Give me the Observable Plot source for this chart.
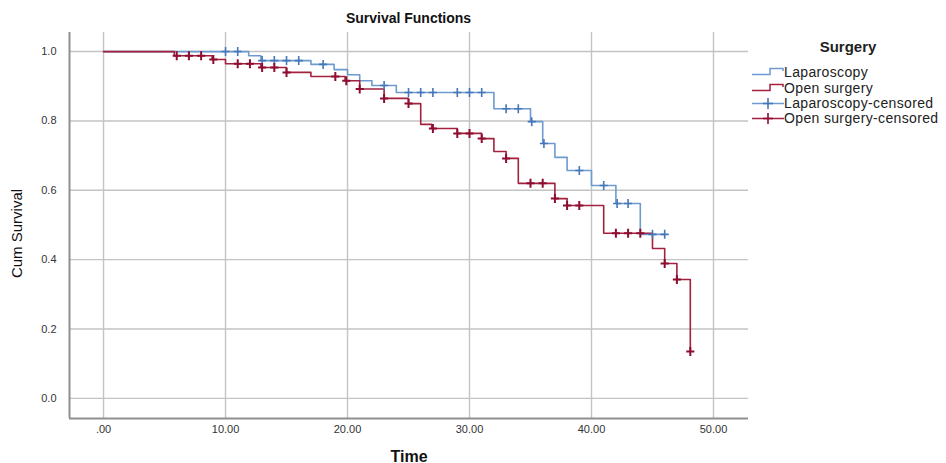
<!DOCTYPE html>
<html>
<head>
<meta charset="utf-8">
<script src="https://cdn.jsdelivr.net/npm/d3@7"></script>
<script src="https://cdn.jsdelivr.net/npm/@observablehq/plot@0.6"></script>
<style>
  body { margin: 0; background: #fff; font-family: "Liberation Sans", Arial, sans-serif; }
  #wrap { position: relative; width: 946px; height: 463px; overflow: hidden; background: #fff; }
  #title { position: absolute; left: 69px; width: 679px; top: 10px; text-align: center; font-weight: bold; font-size: 14px; color: #111; }
  #chart { position: absolute; left: 0; top: 30px; }
  #legend { position: absolute; left: 748px; top: 38px; width: 198px; height: 100px; }
  #legend .lt { position: absolute; left: 0; width: 200px; top: 0; text-align: center; font-weight: bold; font-size: 15px; color: #222; }
  #legend .row { position: absolute; left: 2px; height: 16px; font-size: 14px; letter-spacing: 0.35px; color: #222; white-space: nowrap; }
  #legend .row svg { position: absolute; left: 0; top: 0; }
  #legend .row span { position: absolute; left: 34px; top: 0; line-height: 16px; }
</style>
</head>
<body>
<div id="wrap">
  <div id="title">Survival Functions</div>
  <div id="chart"></div>
  <div id="legend"></div>
</div>
<script>
// ---- data ----
const lapTime = [0, 11.9, 12.9, 17, 18.9, 20, 21, 22, 24, 32, 35, 36, 37, 38, 40, 42, 44, 46];
const lapSurv = [1.0, 0.988, 0.974, 0.963, 0.948, 0.933, 0.916, 0.902, 0.882, 0.835, 0.798, 0.735, 0.695, 0.657, 0.614, 0.562, 0.473, 0.473];

const lapCensTime = [10, 11, 13, 14, 15, 16, 18, 23, 25, 26, 27, 29, 30, 31, 33, 34, 35.1, 36.1, 39, 41, 42.1, 43, 45, 46];
const lapCensSurv = [1, 1, 0.974, 0.974, 0.974, 0.974, 0.963, 0.902, 0.882, 0.882, 0.882, 0.882, 0.882, 0.882, 0.835, 0.835, 0.798, 0.735, 0.657, 0.614, 0.562, 0.562, 0.473, 0.473];

const openTime = [0, 5.8, 8.9, 10, 12.9, 15, 17, 19.8, 21, 23, 25, 26, 26.9, 29, 31, 32, 33, 34, 37, 38, 41, 45, 46, 47, 48.1];
const openSurv = [1, 0.988, 0.977, 0.965, 0.954, 0.94, 0.928, 0.916, 0.892, 0.865, 0.85, 0.79, 0.778, 0.764, 0.749, 0.712, 0.692, 0.62, 0.576, 0.556, 0.476, 0.432, 0.389, 0.343, 0.135];

const openCensTime = [6, 7, 8, 9, 11, 12, 13, 14, 15, 19, 19.9, 21, 23, 25, 27, 29, 30, 31, 33, 35, 36, 37, 38, 39, 42, 43, 44, 46, 47, 48.1];
const openCensSurv = [0.988, 0.988, 0.988, 0.977, 0.965, 0.965, 0.954, 0.954, 0.94, 0.928, 0.916, 0.892, 0.865, 0.85, 0.778, 0.764, 0.764, 0.749, 0.692, 0.62, 0.62, 0.576, 0.556, 0.556, 0.476, 0.476, 0.476, 0.389, 0.343, 0.135];

const groups = ["Laparoscopy", "Open surgery"];
const legendLabels = ["Laparoscopy", "Open surgery", "Laparoscopy-censored", "Open surgery-censored"];
const xTicks = [0, 10, 20, 30, 40, 50];
const yTicks = [0, 0.2, 0.4, 0.6, 0.8, 1.0];
const xDomain = [-2.79, 52.87];
const yDomain = [-0.058, 1.055];

// ---- styling ----
const lineColor = {"Laparoscopy": "#6d9ad0", "Open surgery": "#a3203f"};
const censColor = {"Laparoscopy": "#4576b8", "Open surgery": "#8c0d2f"};

const lapCurve = lapTime.map((t, i) => ({group: groups[0], time: t, surv: lapSurv[i]}));
const openCurve = openTime.map((t, i) => ({group: groups[1], time: t, surv: openSurv[i]}));
const lapCens = lapCensTime.map((t, i) => ({group: groups[0], time: t, surv: lapCensSurv[i]}));
const openCens = openCensTime.map((t, i) => ({group: groups[1], time: t, surv: openCensSurv[i]}));

const plusSymbol = {
  draw(ctx, size) {
    const r = Math.sqrt(size / Math.PI);
    ctx.moveTo(0, -r); ctx.lineTo(0, r);
    ctx.moveTo(-r * 0.9, 0); ctx.lineTo(r * 0.9, 0);
  }
};

const fmtX = d => d === 0 ? ".00" : d.toFixed(2);
const fmtY = d => d.toFixed(1);

const chart = Plot.plot({
  width: 946,
  height: 433,
  marginLeft: 69,
  marginRight: 198,
  marginTop: 2,
  marginBottom: 45,
  x: {domain: xDomain, axis: null},
  y: {domain: yDomain, axis: null},
  style: {fontFamily: "'Liberation Sans', Arial, sans-serif", fontSize: "11px", color: "#333", background: "transparent", overflow: "visible"},
  marks: [
    Plot.gridX(xTicks, {stroke: "#c3c3c3", strokeOpacity: 1, strokeWidth: 1.4}),
    Plot.gridY(yTicks, {stroke: "#c3c3c3", strokeOpacity: 1, strokeWidth: 1.4}),
    Plot.ruleX([xDomain[0]], {stroke: "#8f8f8f", strokeWidth: 2}),
    Plot.ruleY([yDomain[0]], {stroke: "#8f8f8f", strokeWidth: 2}),
    Plot.axisX(xTicks, {tickSize: 0, tickPadding: 7, tickFormat: fmtX, label: null, fontSize: 11, fill: "#333"}),
    Plot.axisY(yTicks, {tickSize: 0, tickPadding: 13, tickFormat: fmtY, label: null, fontSize: 11, fill: "#333"}),
    Plot.line(lapCurve, {x: "time", y: "surv", curve: "step-after", stroke: lineColor[groups[0]], strokeWidth: 1.6}),
    Plot.line(openCurve, {x: "time", y: "surv", curve: "step-after", stroke: lineColor[groups[1]], strokeWidth: 1.6}),
    Plot.dot(lapCens, {x: "time", y: "surv", symbol: plusSymbol, r: 4.5, stroke: censColor[groups[0]], strokeWidth: 1.6, fill: "none"}),
    Plot.dot(openCens, {x: "time", y: "surv", symbol: plusSymbol, r: 4.5, stroke: censColor[groups[1]], strokeWidth: 2, fill: "none"}),
    Plot.text(["Time"], {frameAnchor: "bottom", dy: 43, fontSize: 16, fontWeight: "bold", fill: "#111"}),
    Plot.text(["Cum Survival"], {frameAnchor: "left", textAnchor: "middle", dx: -52, dy: 8, rotate: -90, fontSize: 15, fill: "#111"})
  ]
});
document.getElementById("chart").appendChild(chart);

// ---- legend ----
const legend = document.getElementById("legend");
legend.innerHTML = `<div class="lt">Surgery</div>`;
const rowTops = [26, 42, 57, 72];
legendLabels.forEach((label, i) => {
  const g = groups[i % 2];
  const censored = i >= 2;
  const row = document.createElement("div");
  row.className = "row";
  row.style.top = rowTops[i] + "px";
  const c = censored ? censColor[g] : lineColor[g];
  const lc = lineColor[g];
  const sym = censored
    ? `<line x1="2" y1="8.5" x2="34" y2="8.5" stroke="${lc}" stroke-width="1.5"/><line x1="18" y1="3" x2="18" y2="14" stroke="${c}" stroke-width="1.6"/><line x1="13" y1="8.5" x2="23" y2="8.5" stroke="${c}" stroke-width="1.6"/>`
    : `<polyline points="2,10.5 20,10.5 20,4.5 33,4.5 33,7" fill="none" stroke="${c}" stroke-width="1.5"/>`;
  row.innerHTML = `<svg width="34" height="16">${sym}</svg><span>${label}</span>`;
  legend.appendChild(row);
});
</script>
</body>
</html>
